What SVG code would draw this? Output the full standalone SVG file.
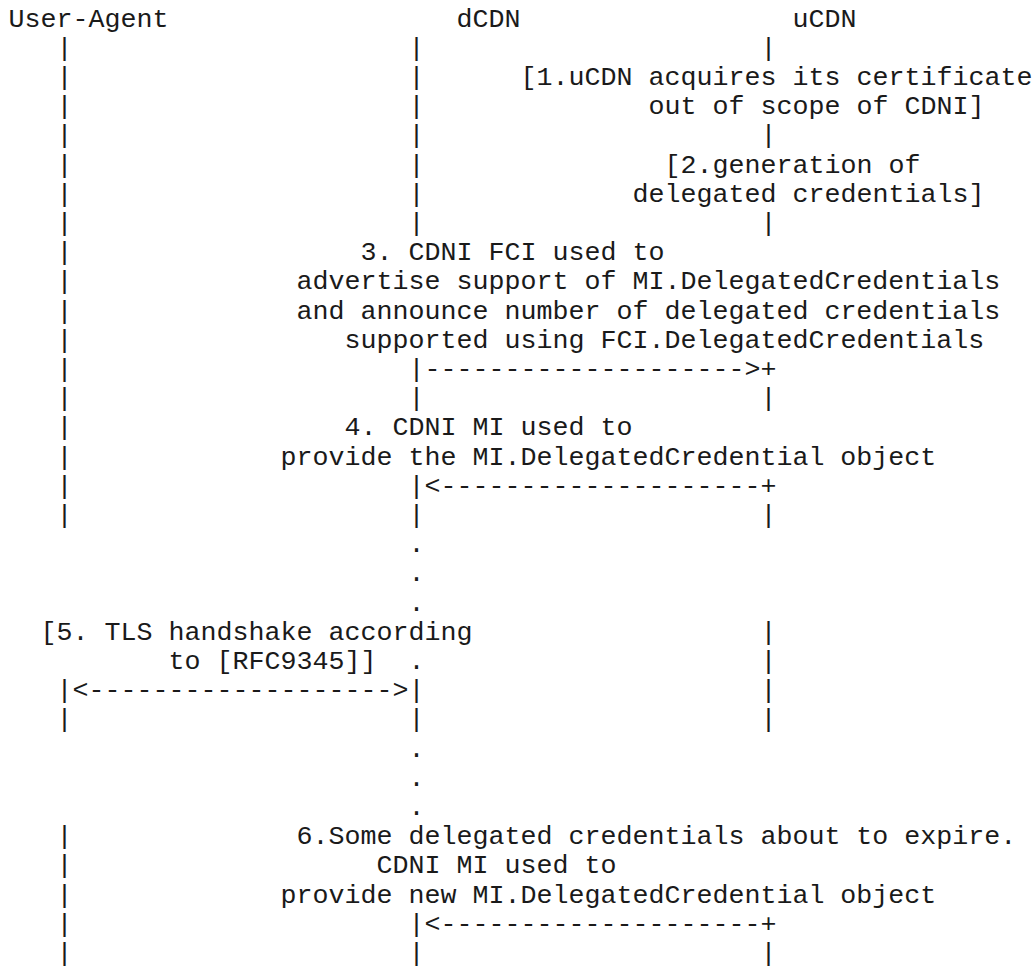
<svg xmlns="http://www.w3.org/2000/svg" width="1036" height="969" viewBox="0 0 1036 969">
  <style>
    .t { font-family: "Liberation Mono", "Courier New", monospace; font-size: 26.667px; fill: #1a1a1a; white-space: pre; }
  </style>
  <rect width="1036" height="969" fill="#fff"/>

  <!-- monospace grid: column c at x = 8.5 + 16c, row r baseline at y = 26.5 + 29.2r -->

  <!-- User-Agent lifeline (col 3) -->
  <g id="user-agent">
    <text class="t" x="8.5" y="26.5">User-Agent</text>
    <text class="t" x="56.5" y="55.7">|</text>
    <text class="t" x="56.5" y="84.9">|</text>
    <text class="t" x="56.5" y="114.1">|</text>
    <text class="t" x="56.5" y="143.3">|</text>
    <text class="t" x="56.5" y="172.5">|</text>
    <text class="t" x="56.5" y="201.7">|</text>
    <text class="t" x="56.5" y="230.9">|</text>
    <text class="t" x="56.5" y="260.1">|</text>
    <text class="t" x="56.5" y="289.3">|</text>
    <text class="t" x="56.5" y="318.5">|</text>
    <text class="t" x="56.5" y="347.7">|</text>
    <text class="t" x="56.5" y="376.9">|</text>
    <text class="t" x="56.5" y="406.1">|</text>
    <text class="t" x="56.5" y="435.3">|</text>
    <text class="t" x="56.5" y="464.5">|</text>
    <text class="t" x="56.5" y="493.7">|</text>
    <text class="t" x="56.5" y="522.9">|</text>
    <text class="t" x="56.5" y="727.3">|</text>
    <text class="t" x="56.5" y="844.1">|</text>
    <text class="t" x="56.5" y="873.3">|</text>
    <text class="t" x="56.5" y="902.5">|</text>
    <text class="t" x="56.5" y="931.7">|</text>
    <text class="t" x="56.5" y="960.9">|</text>
  </g>

  <!-- dCDN lifeline (col 25) -->
  <g id="dcdn">
    <text class="t" x="456.5" y="26.5">dCDN</text>
    <text class="t" x="408.5" y="55.7">|</text>
    <text class="t" x="408.5" y="84.9">|</text>
    <text class="t" x="408.5" y="114.1">|</text>
    <text class="t" x="408.5" y="143.3">|</text>
    <text class="t" x="408.5" y="172.5">|</text>
    <text class="t" x="408.5" y="201.7">|</text>
    <text class="t" x="408.5" y="230.9">|</text>
    <text class="t" x="408.5" y="406.1">|</text>
    <text class="t" x="408.5" y="522.9">|</text>
    <text class="t" x="408.5" y="552.1">.</text>
    <text class="t" x="408.5" y="581.3">.</text>
    <text class="t" x="408.5" y="610.5">.</text>
    <text class="t" x="408.5" y="668.9">.</text>
    <text class="t" x="408.5" y="727.3">|</text>
    <text class="t" x="408.5" y="756.5">.</text>
    <text class="t" x="408.5" y="785.7">.</text>
    <text class="t" x="408.5" y="814.9">.</text>
    <text class="t" x="408.5" y="960.9">|</text>
  </g>

  <!-- uCDN lifeline (col 47) -->
  <g id="ucdn">
    <text class="t" x="792.5" y="26.5">uCDN</text>
    <text class="t" x="760.5" y="55.7">|</text>
    <text class="t" x="760.5" y="143.3">|</text>
    <text class="t" x="760.5" y="230.9">|</text>
    <text class="t" x="760.5" y="406.1">|</text>
    <text class="t" x="760.5" y="522.9">|</text>
    <text class="t" x="760.5" y="639.7">|</text>
    <text class="t" x="760.5" y="668.9">|</text>
    <text class="t" x="760.5" y="698.1">|</text>
    <text class="t" x="760.5" y="727.3">|</text>
    <text class="t" x="760.5" y="960.9">|</text>
  </g>

  <!-- step annotations -->
  <g id="step1">
    <text class="t" x="520.5" y="84.9">[1.uCDN acquires its certificate</text>
    <text class="t" x="648.5" y="114.1">out of scope of CDNI]</text>
  </g>
  <g id="step2">
    <text class="t" x="664.5" y="172.5">[2.generation of</text>
    <text class="t" x="632.5" y="201.7">delegated credentials]</text>
  </g>
  <g id="step3">
    <text class="t" x="360.5" y="260.1">3. CDNI FCI used to</text>
    <text class="t" x="296.5" y="289.3">advertise support of MI.DelegatedCredentials</text>
    <text class="t" x="296.5" y="318.5">and announce number of delegated credentials</text>
    <text class="t" x="344.5" y="347.7">supported using FCI.DelegatedCredentials</text>
  </g>
  <g id="step4">
    <text class="t" x="344.5" y="435.3">4. CDNI MI used to</text>
    <text class="t" x="280.5" y="464.5">provide the MI.DelegatedCredential object</text>
  </g>
  <g id="step5">
    <text class="t" x="40.5" y="639.7">[5. TLS handshake according</text>
    <text class="t" x="168.5" y="668.9">to [RFC9345]]</text>
  </g>
  <g id="step6">
    <text class="t" x="296.5" y="844.1">6.Some delegated credentials about to expire.</text>
    <text class="t" x="376.5" y="873.3">CDNI MI used to</text>
    <text class="t" x="280.5" y="902.5">provide new MI.DelegatedCredential object</text>
  </g>

  <!-- message arrows -->
  <g id="connectors">
    <text class="t" x="408.5" y="376.9">|--------------------&gt;+</text>
    <text class="t" x="408.5" y="493.7">|&lt;--------------------+</text>
    <text class="t" x="56.5" y="698.1">|&lt;-------------------&gt;|</text>
    <text class="t" x="408.5" y="931.7">|&lt;--------------------+</text>
  </g>
</svg>
